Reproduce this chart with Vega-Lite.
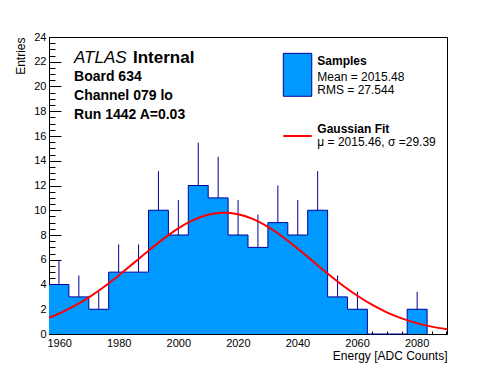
{
  "$schema": "https://vega.github.io/schema/vega-lite/v6.json",
  "width": 398,
  "height": 297,
  "autosize": {"type": "none"},
  "padding": {"left": 49, "top": 37, "right": 49, "bottom": 38},
  "background": "white",
  "config": {
    "view": {"stroke": "black", "strokeWidth": 1},
    "font": "Liberation Sans",
    "axis": {"grid": false, "zindex": 1, "labelFont": "Liberation Sans", "titleFont": "Liberation Sans", "labelColor": "black", "titleColor": "black", "domainColor": "black", "tickColor": "black", "labelFontSize": 11, "titleFontSize": 12, "titleFontWeight": "normal", "labelFlush": false, "labelOverlap": false}
  },
  "datasets": {
    "bins": [
      {"lo": 1956.60, "hi": 1963.28, "center": 1959.94, "n": 4, "up": 6.00},
      {"lo": 1963.28, "hi": 1969.96, "center": 1966.62, "n": 3, "up": 4.73},
      {"lo": 1969.96, "hi": 1976.64, "center": 1973.30, "n": 2, "up": 3.41},
      {"lo": 1976.64, "hi": 1983.32, "center": 1979.98, "n": 5, "up": 7.24},
      {"lo": 1983.32, "hi": 1990.00, "center": 1986.66, "n": 5, "up": 7.24},
      {"lo": 1990.00, "hi": 1996.68, "center": 1993.34, "n": 10, "up": 13.16},
      {"lo": 1996.68, "hi": 2003.36, "center": 2000.02, "n": 8, "up": 10.83},
      {"lo": 2003.36, "hi": 2010.04, "center": 2006.70, "n": 12, "up": 15.46},
      {"lo": 2010.04, "hi": 2016.72, "center": 2013.38, "n": 11, "up": 14.32},
      {"lo": 2016.72, "hi": 2023.40, "center": 2020.06, "n": 8, "up": 10.83},
      {"lo": 2023.40, "hi": 2030.08, "center": 2026.74, "n": 7, "up": 9.65},
      {"lo": 2030.08, "hi": 2036.76, "center": 2033.42, "n": 9, "up": 12.00},
      {"lo": 2036.76, "hi": 2043.44, "center": 2040.10, "n": 8, "up": 10.83},
      {"lo": 2043.44, "hi": 2050.12, "center": 2046.78, "n": 10, "up": 13.16},
      {"lo": 2050.12, "hi": 2056.80, "center": 2053.46, "n": 3, "up": 4.73},
      {"lo": 2056.80, "hi": 2063.48, "center": 2060.14, "n": 2, "up": 3.41},
      {"lo": 2063.48, "hi": 2070.16, "center": 2066.82, "n": 0, "up": 0},
      {"lo": 2070.16, "hi": 2076.84, "center": 2073.50, "n": 0, "up": 0},
      {"lo": 2076.84, "hi": 2083.52, "center": 2080.18, "n": 2, "up": 3.41},
      {"lo": 2083.52, "hi": 2090.20, "center": 2086.86, "n": 0, "up": 0}
    ],
    "fit": [
      {"e": 1956.6, "g": 1.319}, {"e": 1960, "g": 1.652}, {"e": 1965, "g": 2.244},
      {"e": 1970, "g": 2.963}, {"e": 1975, "g": 3.800}, {"e": 1980, "g": 4.733},
      {"e": 1985, "g": 5.728}, {"e": 1990, "g": 6.735}, {"e": 1995, "g": 7.691},
      {"e": 2000, "g": 8.534}, {"e": 2005, "g": 9.199}, {"e": 2010, "g": 9.632},
      {"e": 2015, "g": 9.799}, {"e": 2020, "g": 9.684}, {"e": 2025, "g": 9.297},
      {"e": 2030, "g": 8.671}, {"e": 2035, "g": 7.857}, {"e": 2040, "g": 6.916},
      {"e": 2045, "g": 5.914}, {"e": 2050, "g": 4.913}, {"e": 2055, "g": 3.964},
      {"e": 2060, "g": 3.108}, {"e": 2065, "g": 2.368}, {"e": 2070, "g": 1.751},
      {"e": 2075, "g": 1.259}, {"e": 2080, "g": 0.879}, {"e": 2085, "g": 0.597},
      {"e": 2090.2, "g": 0.386}
    ]
  },
  "resolve": {"axis": {"x": "independent", "y": "independent"}},
  "layer": [
    {
      "data": {"name": "bins"},
      "mark": {"type": "area", "interpolate": "step-after", "fill": "#0099ff", "opacity": 1},
      "encoding": {
        "x": {"field": "lo", "type": "quantitative", "scale": {"domain": [1956.6, 2090.2], "nice": false, "zero": false},
              "axis": {"orient": "bottom", "values": [1960, 1980, 2000, 2020, 2040, 2060, 2080], "format": "d", "tickSize": -6, "labelPadding": 9, "title": "Energy [ADC Counts]", "titleAnchor": "end", "titleAlign": "right", "titleX": 398, "titleY": 25, "titleBaseline": "alphabetic"}},
        "y": {"field": "n", "type": "quantitative", "scale": {"domain": [0, 24], "nice": false, "zero": true},
              "axis": {"orient": "left", "values": [0, 2, 4, 6, 8, 10, 12, 14, 16, 18, 20, 22, 24], "tickSize": -12, "labelPadding": 15, "title": "Entries", "titleAngle": 270, "titleAlign": "right", "titleX": -25, "titleY": 0, "titleBaseline": "alphabetic"}},
        "y2": {"datum": 0}
      }
    },
    {
      "data": {"name": "bins"},
      "mark": {"type": "line", "interpolate": "step-after", "stroke": "#000099", "strokeWidth": 1},
      "encoding": {
        "x": {"field": "lo", "type": "quantitative",
              "axis": {"orient": "bottom", "values": [1960, 1965, 1970, 1975, 1985, 1990, 1995, 2005, 2010, 2015, 2025, 2030, 2035, 2045, 2050, 2055, 2065, 2070, 2075, 2085, 2090], "tickSize": -3, "labels": false, "domain": false, "title": null}},
        "y": {"field": "n", "type": "quantitative",
              "axis": {"orient": "left", "values": [0.5, 1, 1.5, 2.5, 3, 3.5, 4.5, 5, 5.5, 6.5, 7, 7.5, 8.5, 9, 9.5, 10.5, 11, 11.5, 12.5, 13, 13.5, 14.5, 15, 15.5, 16.5, 17, 17.5, 18.5, 19, 19.5, 20.5, 21, 21.5, 22.5, 23, 23.5], "tickSize": -6, "labels": false, "domain": false, "title": null}}
      }
    },
    {
      "data": {"name": "bins"},
      "mark": {"type": "rule", "stroke": "#000099", "strokeWidth": 1},
      "encoding": {
        "x": {"field": "center", "type": "quantitative", "axis": null},
        "y": {"field": "n", "type": "quantitative", "axis": null},
        "y2": {"field": "up"}
      }
    },
    {
      "data": {"name": "fit"},
      "mark": {"type": "line", "stroke": "#ff0000", "strokeWidth": 2, "interpolate": "monotone"},
      "encoding": {
        "x": {"field": "e", "type": "quantitative", "axis": null},
        "y": {"field": "g", "type": "quantitative", "axis": null}
      }
    },
    {
      "data": {"values": [{}]},
      "mark": {"type": "rect", "fill": "#0099ff", "stroke": "#000099", "strokeWidth": 1},
      "encoding": {
        "x": {"datum": 2035.25, "type": "quantitative", "axis": null},
        "x2": {"datum": 2044.8},
        "y": {"datum": 22.68, "type": "quantitative", "axis": null},
        "y2": {"datum": 19.21}
      }
    },
    {
      "data": {"values": [{}]},
      "mark": {"type": "rule", "stroke": "#ff0000", "strokeWidth": 2},
      "encoding": {
        "x": {"datum": 2035.25, "type": "quantitative", "axis": null},
        "x2": {"datum": 2044.8},
        "y": {"datum": 16.0, "type": "quantitative", "axis": null}
      }
    },
    {
      "data": {"values": [{}]},
      "mark": {"type": "text", "text": "ATLAS", "font": "Liberation Sans", "fontStyle": "italic", "fontSize": 17, "align": "left", "baseline": "alphabetic", "color": "black"},
      "encoding": {
        "x": {"datum": 1965.0, "type": "quantitative", "axis": null},
        "y": {"datum": 21.92, "type": "quantitative", "axis": null}
      }
    },
    {
      "data": {"values": [{}]},
      "mark": {"type": "text", "text": "Internal", "font": "Liberation Sans", "fontWeight": "bold", "fontSize": 17, "align": "left", "baseline": "alphabetic", "color": "black"},
      "encoding": {
        "x": {"datum": 1984.8, "type": "quantitative", "axis": null},
        "y": {"datum": 21.92, "type": "quantitative", "axis": null}
      }
    },
    {
      "data": {"values": [{}]},
      "mark": {"type": "text", "text": ["Board 634", "Channel 079 lo", "Run 1442 A=0.03"], "lineHeight": 19, "font": "Liberation Sans", "fontWeight": "bold", "fontSize": 14, "align": "left", "baseline": "alphabetic", "color": "black"},
      "encoding": {
        "x": {"datum": 1965.0, "type": "quantitative", "axis": null},
        "y": {"datum": 20.44, "type": "quantitative", "axis": null}
      }
    },
    {
      "data": {"values": [{}]},
      "mark": {"type": "text", "text": "Samples", "font": "Liberation Sans", "fontWeight": "bold", "fontSize": 12, "align": "left", "baseline": "alphabetic", "color": "black"},
      "encoding": {
        "x": {"datum": 2046.67, "type": "quantitative", "axis": null},
        "y": {"datum": 21.74, "type": "quantitative", "axis": null}
      }
    },
    {
      "data": {"values": [{}]},
      "mark": {"type": "text", "text": ["Mean = 2015.48", "RMS = 27.544"], "lineHeight": 12.7, "font": "Liberation Sans", "fontSize": 12, "align": "left", "baseline": "alphabetic", "color": "black"},
      "encoding": {
        "x": {"datum": 2046.67, "type": "quantitative", "axis": null},
        "y": {"datum": 20.44, "type": "quantitative", "axis": null}
      }
    },
    {
      "data": {"values": [{}]},
      "mark": {"type": "text", "text": "Gaussian Fit", "font": "Liberation Sans", "fontWeight": "bold", "fontSize": 12, "align": "left", "baseline": "alphabetic", "color": "black"},
      "encoding": {
        "x": {"datum": 2046.67, "type": "quantitative", "axis": null},
        "y": {"datum": 16.27, "type": "quantitative", "axis": null}
      }
    },
    {
      "data": {"values": [{}]},
      "mark": {"type": "text", "text": "μ = 2015.46, σ =29.39", "font": "Liberation Sans", "fontSize": 12, "align": "left", "baseline": "alphabetic", "color": "black"},
      "encoding": {
        "x": {"datum": 2046.67, "type": "quantitative", "axis": null},
        "y": {"datum": 15.22, "type": "quantitative", "axis": null}
      }
    }
  ]
}
